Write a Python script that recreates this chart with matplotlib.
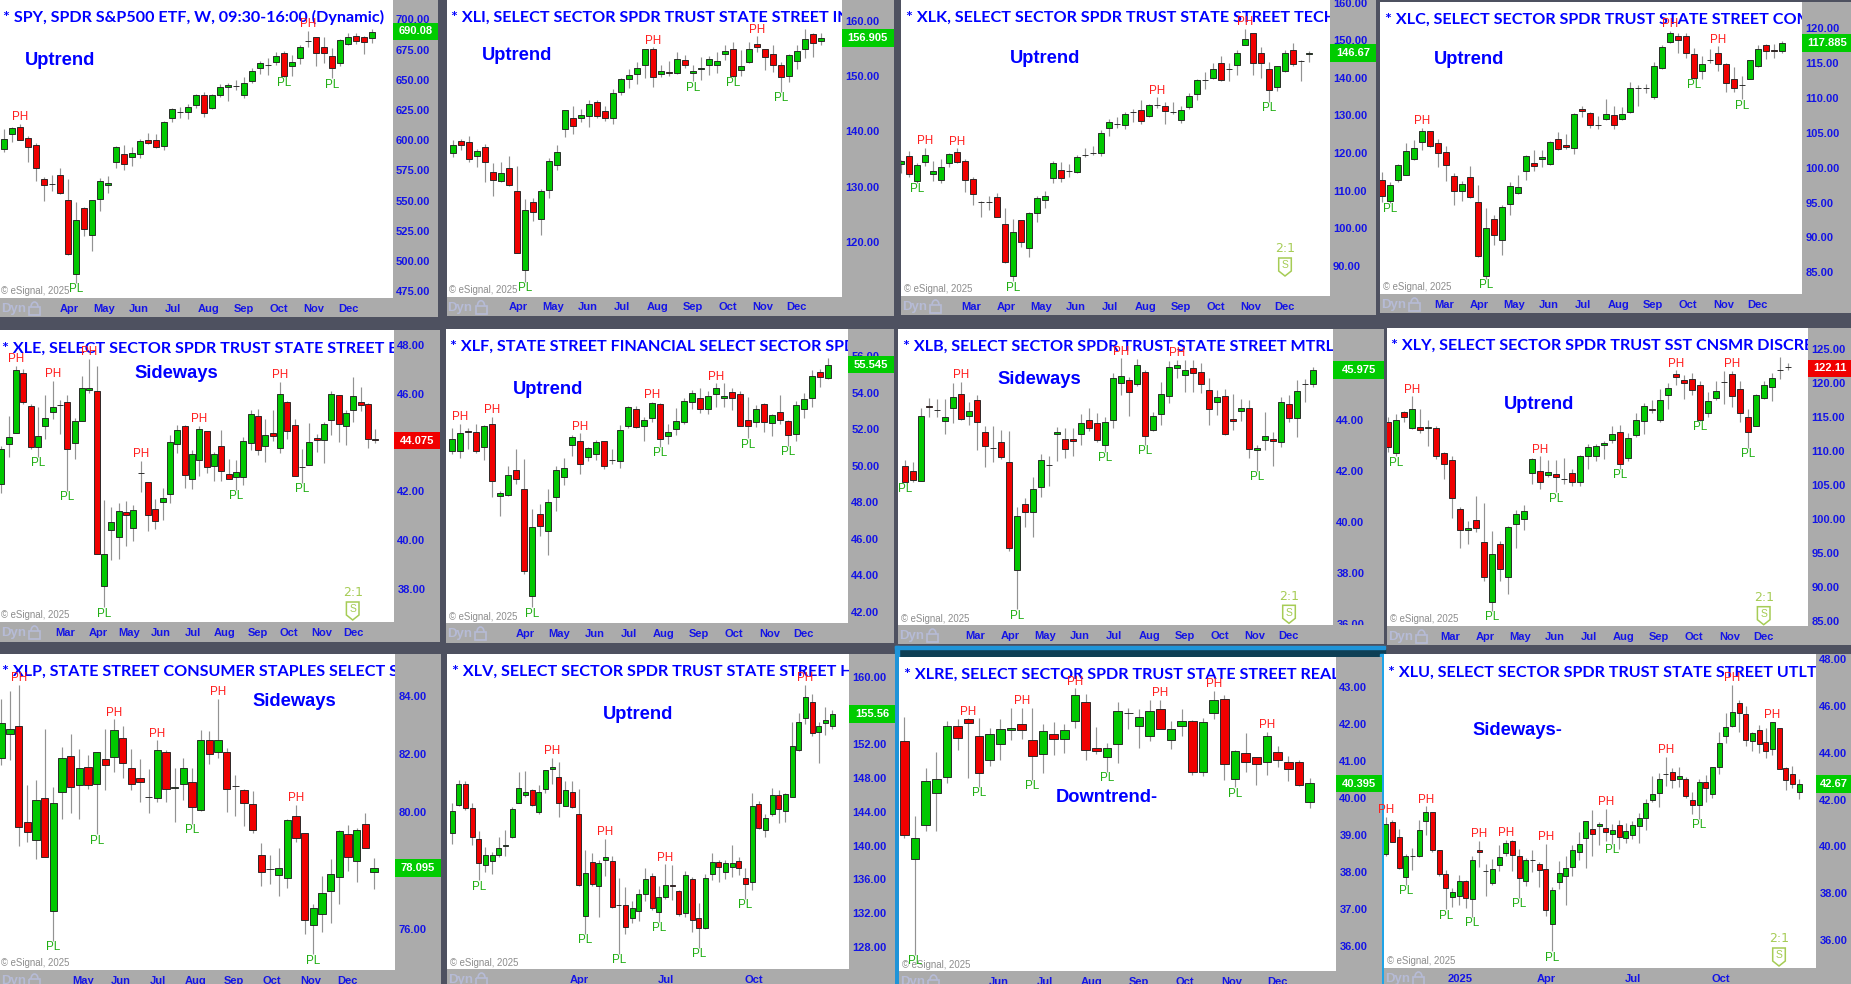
import numpy as np
import matplotlib
matplotlib.use("Agg")
import matplotlib.pyplot as plt
from matplotlib.patches import Rectangle, Polygon, Arc

W, H = 1851, 984
BLUE = "#1414e6"
ARIAL = "Liberation Sans"

# weekly candles, each row is open, high, low, close
spy = [(592.9,608.9,590.4,600.9),(604.7,611.1,598.7,609.7),(610.8,613.3,599.8,600.3),(602.2,603.4,582.1,594.5),
(595.9,597.3,566.1,576.6),(567.7,569.7,549.8,563.3),(563.6,571.0,558.1,563.6),(570.8,576.6,555.3,555.9),
(550.1,567.7,504.8,505.6),(489.6,549.2,481.9,534.3),(544.0,544.3,520.5,526.9),(521.9,550.9,508.4,550.9),
(551.7,568.8,541.5,566.6),(563.3,570.5,555.9,564.4),(582.1,595.1,577.1,594.2),(588.2,595.9,575.7,579.9),
(586.2,594.0,578.5,589.5),(588.2,600.6,585.4,599.2),(599.8,605.6,596.7,597.6),(600.3,604.7,593.7,594.5),
(595.3,616.1,592.0,614.7),(618.0,626.3,615.2,625.4),(623.2,627.1,618.0,623.2),(623.5,629.9,617.7,627.4),
(629.0,637.9,626.3,637.0),(637.3,640.1,619.4,622.4),(626.3,637.9,625.7,637.3),(637.6,646.1,635.4,643.7),
(643.7,647.0,632.6,645.3),(644.8,649.7,641.5,644.8),(637.6,651.9,634.8,647.3),(648.6,659.4,647.5,657.2),
(660.0,665.2,654.4,663.8),(662.2,667.7,653.9,662.2),(664.9,672.7,662.2,669.3),(671.8,674.0,652.5,653.3),
(661.1,670.4,653.3,664.4),(667.7,678.7,663.0,677.1),(682.3,690.6,677.3,682.3),(685.4,685.4,661.6,671.8),
(677.1,685.6,663.5,672.1),(669.3,676.0,651.1,659.4),(663.5,683.7,661.6,683.1),(679.3,688.4,678.7,685.1),
(686.5,688.9,679.3,682.3),(685.1,686.2,671.3,680.9),(684.2,691.7,680.7,689.8)]

xli = [(136.1,138.5,135.4,137.5),(138.2,138.7,136.6,137.6),(138.0,139.2,134.4,135.0),(135.5,136.8,133.6,136.4),
(137.2,137.7,130.9,134.4),(132.6,134.2,128.3,131.2),(131.0,134.5,130.9,132.4),(133.4,135.5,130.1,130.3),
(129.2,133.7,117.9,118.0),(114.8,127.7,112.7,125.7),(127.2,127.9,123.7,125.4),(124.2,129.5,121.2,129.1),
(129.4,135.2,128.0,134.6),(133.9,137.5,133.0,136.2),(140.4,143.8,139.0,143.8),(142.4,144.6,139.6,141.0),
(142.5,144.0,141.6,142.9),(142.7,145.7,140.8,144.9),(145.4,145.6,142.4,142.8),(143.6,144.6,141.9,142.5),
(142.4,147.6,141.3,146.9),(147.2,149.6,146.6,149.5),(149.5,151.3,147.9,150.2),(150.3,152.5,148.5,151.4),
(152.0,155.0,149.7,155.0),(155.0,155.2,148.1,149.8),(150.4,152.0,149.8,150.9),(150.8,152.7,150.1,150.6),
(150.6,154.4,150.4,153.1),(152.9,153.8,151.5,152.1),(150.6,152.1,149.1,150.9),(151.3,153.4,149.3,151.5),
(152.1,153.6,150.2,153.1),(152.1,154.4,150.6,152.7),(154.0,155.6,153.0,154.5),(154.9,156.1,149.9,150.1),
(151.2,154.7,150.0,151.8),(152.6,156.1,152.4,154.9),(155.9,157.2,154.3,155.2),(155.0,155.0,151.2,153.5),
(154.1,155.6,150.8,152.1),(152.0,152.6,147.2,149.8),(150.0,154.0,149.0,153.8),(152.7,155.6,151.3,154.6),
(154.9,158.5,153.2,156.7),(157.6,157.8,153.4,156.0),(156.3,157.9,155.7,157.0)]

xlk = [(117.1,118.1,114.8,117.9),(119.1,120.6,113.7,114.3),(112.6,117.3,112.1,116.8),(117.5,121.4,116.6,119.5),
(114.3,117.9,112.6,115.2),(112.9,118.5,112.1,116.3),(117.3,120.1,116.4,119.8),(120.3,121.3,117.3,117.5),
(117.8,118.3,109.7,112.7),(113.1,113.5,106.2,109.2),(106.9,107.2,102.9,106.9),(106.9,108.7,104.8,106.9),
(108.3,109.3,102.9,103.1),(101.2,105.5,90.8,91.1),(87.4,102.4,85.9,98.9),(102.1,102.2,95.1,96.4),
(94.8,104.4,92.4,104.0),(104.0,108.6,101.6,108.1),(107.4,110.0,105.5,108.7),(113.4,117.8,112.1,117.4),
(115.6,117.5,112.4,113.4),(115.1,117.2,113.5,115.1),(115.0,119.6,114.8,118.9),(119.5,121.4,119.0,119.5),
(120.1,121.9,119.5,120.1),(120.1,126.1,119.2,125.3),(126.6,129.0,124.6,128.3),(127.7,129.5,126.6,127.7),
(127.6,131.0,126.4,130.3),(130.8,131.7,128.3,130.8),(131.4,134.1,127.7,128.5),(129.8,133.0,129.6,132.8),
(132.7,134.8,131.9,132.7),(132.6,133.5,127.7,131.2),(131.0,133.5,130.4,131.0),(128.9,132.5,128.1,131.4),
(132.3,136.1,131.7,135.3),(135.8,139.6,134.1,139.4),(139.4,141.5,137.0,139.4),(140.1,144.1,139.7,142.3),
(144.1,145.8,139.2,139.4),(142.4,143.9,139.2,142.4),(143.4,147.4,140.9,146.6),(148.8,153.0,148.7,150.3),
(151.9,152.0,140.7,144.1),(146.6,148.1,140.1,144.1),(142.5,144.3,133.7,136.7),(137.6,143.3,136.6,143.1),
(141.8,147.4,141.5,146.5),(147.3,149.4,143.3,143.8),(144.5,144.8,139.3,144.5),(146.3,147.1,144.2,146.6)]

xlc = [(98.3,99.4,95.1,95.9),(95.2,97.9,95.0,97.5),(98.2,100.5,98.0,100.4),(99.0,103.6,98.9,102.4),
(101.2,104.0,101.1,102.8),(103.7,105.7,102.5,105.3),(105.3,105.3,103.0,103.1),(103.6,104.1,100.1,102.1),
(102.3,103.1,98.1,100.4),(98.8,99.3,94.7,96.7),(96.7,98.1,95.2,97.6),(98.7,100.3,95.7,95.8),
(95.1,97.5,87.2,87.3),(84.5,94.2,84.1,91.3),(92.6,93.2,88.9,90.4),(89.6,94.7,87.5,94.4),
(94.8,98.0,93.2,97.4),(96.4,98.9,96.3,97.2),(99.6,101.8,98.3,101.7),(100.7,102.6,99.6,100.3),
(101.3,102.5,100.1,101.5),(100.6,103.9,100.4,103.7),(104.1,105.2,102.5,102.7),(103.3,104.8,102.7,103.0),
(102.9,107.8,102.0,107.7),(108.5,108.9,107.3,108.2),(107.9,108.0,105.7,106.1),(106.2,107.4,105.6,106.2),
(107.0,109.9,106.8,107.7),(107.6,108.8,105.6,106.2),(107.0,108.7,106.8,107.7),(108.05,112.3,107.9,111.5),
(111.4,111.9,108.9,111.4),(111.4,112.0,110.7,111.4),(110.1,115.2,109.9,114.6),(114.3,117.6,114.2,117.3),
(118.0,119.6,117.9,119.4),(118.9,119.3,116.5,118.3),(118.9,119.4,115.8,116.5),(116.3,117.2,112.8,112.9),
(113.9,116.1,112.8,114.9),(115.5,117.0,115.0,115.5),(116.4,117.4,113.9,114.9),(114.9,115.1,110.9,112.2),
(112.8,114.4,110.8,111.4),(111.9,113.2,109.8,111.9),(112.8,115.5,112.7,115.4),(114.6,117.6,114.5,117.1),
(117.6,117.7,115.6,116.7),(116.9,117.8,115.7,116.7),(116.8,118.2,116.4,117.9)]

xle = [(42.32,43.86,41.92,43.72),(43.96,45.10,43.42,44.22),(44.41,47.15,44.41,46.98),(46.85,47.0,45.58,45.68),
(45.49,45.58,43.75,43.83),(43.83,45.45,43.42,44.28),(44.68,45.94,44.16,45.02),(45.27,46.53,44.98,45.46),
(45.53,45.75,44.35,45.53),(45.68,45.95,42.03,43.72),(43.97,45.0,43.32,44.89),(44.89,46.74,44.89,46.25),
(46.14,47.43,46.02,46.22),(46.12,47.14,39.42,39.42),(38.12,41.65,37.25,39.45),(40.4,41.37,39.19,40.76),
(40.12,41.51,39.24,41.18),(41.17,41.61,39.76,41.03),(40.52,41.44,39.98,41.23),(42.74,43.25,41.97,42.74),
(42.4,42.4,40.37,41.03),(41.27,41.69,40.45,40.79),(41.55,42.13,40.83,41.72),(41.91,44.31,41.54,44.04),
(43.96,44.72,43.59,44.5),(44.69,44.72,42.14,42.67),(42.5,43.7,42.09,43.52),(43.27,44.68,42.65,44.54),
(44.47,44.47,42.74,43.01),(43.03,43.6,42.44,43.55),(43.85,44.52,42.44,42.84),(42.73,43.32,42.5,42.51),
(42.59,43.29,42.06,42.78),(42.59,44.22,42.28,44.07),(43.98,45.34,43.7,45.19),(45.08,45.36,43.49,43.71),
(43.85,44.98,43.21,44.31),(44.38,45.34,44.08,44.28),(43.77,46.48,43.56,46.0),(45.68,45.7,44.16,44.47),
(44.71,44.98,42.63,42.65),(43.0,43.72,42.36,43.0),(43.08,44.82,43.07,44.04),(44.18,44.35,43.63,44.09),
(44.09,44.86,43.18,44.78),(44.91,46.11,44.3,46.0),(45.94,45.95,44.04,44.75),(44.7,45.34,43.89,45.2),
(45.32,46.67,44.86,45.92),(45.65,46.29,45.3,45.54),(45.6,45.61,43.78,44.15),(44.15,44.56,44.0,44.09)]

xlf = [(50.81,52.07,50.66,51.46),(50.79,52.29,50.42,51.79),(51.92,52.07,50.92,51.83),(51.87,52.29,50.7,50.79),
(51.04,52.25,50.3,52.18),(52.32,52.67,48.27,49.15),(48.35,48.64,47.23,48.53),(48.38,50.01,48.33,49.48),
(49.8,50.93,49.02,49.26),(48.71,50.37,44.09,44.26),(42.87,47.65,42.25,46.65),(47.36,47.93,46.17,46.7),
(46.43,48.75,45.14,48.02),(48.27,49.97,47.51,49.77),(49.37,50.41,48.97,49.88),(51.16,51.7,50.55,51.59),
(51.34,51.79,49.57,50.1),(50.46,51.06,50.26,50.97),(50.64,51.43,50.3,51.3),(51.34,51.39,49.82,49.99),
(50.33,50.92,50.1,50.33),(50.24,52.25,49.86,51.96),(52.21,53.29,52.1,53.2),(53.12,53.29,52.1,52.14),
(52.18,52.67,51.34,52.54),(52.61,53.52,52.38,53.45),(53.38,53.43,51.06,51.45),(51.63,52.3,51.21,51.85),
(52.01,53.16,51.7,52.47),(52.43,53.71,52.3,53.56),(53.52,54.16,53.11,54.0),(53.71,54.26,52.89,53.12),
(53.12,54.11,52.85,53.82),(53.93,54.53,53.25,54.26),(53.74,54.53,53.25,53.85),(54.04,54.27,53.07,53.74),
(53.93,54.09,52.19,52.21),(52.54,53.8,51.52,52.21),(52.39,53.31,52.12,53.12),(53.38,53.43,51.88,52.39),
(52.36,52.83,51.65,52.8),(52.94,53.91,52.29,52.5),(52.47,52.52,51.1,51.7),(51.77,53.58,51.34,53.34),
(53.12,53.98,52.61,53.67),(53.74,55.26,53.22,54.95),(55.17,55.31,54.34,54.87),(54.8,55.91,54.75,55.53)]

xlb = [(42.19,42.44,41.56,41.59),(42.01,42.36,41.56,41.64),(41.63,44.47,41.63,44.16),(44.58,44.87,44.14,44.51),
(44.41,44.83,44.12,44.41),(43.96,44.83,43.46,44.13),(44.5,45.46,43.88,44.92),(45.05,45.51,44.01,44.04),
(44.16,44.73,43.82,44.37),(44.79,45.0,42.83,43.92),(43.53,43.79,42.18,43.0),(42.9,43.78,42.37,42.9),
(43.14,43.62,42.49,42.56),(42.37,43.58,38.86,38.96),(38.1,40.6,36.57,40.25),(40.72,40.96,39.82,40.41),
(40.38,41.76,39.4,41.29),(41.38,42.66,40.97,42.45),(42.26,42.6,41.43,42.26),(43.45,43.75,42.4,43.53),
(43.27,43.69,42.53,42.87),(43.27,43.69,42.6,43.19),(43.47,44.25,43.03,43.9),(44.0,44.5,43.59,43.71),
(43.9,44.28,43.16,43.24),(43.03,44.14,42.77,43.95),(44.03,45.88,43.69,45.68),(45.47,46.44,45.01,45.76),
(45.57,45.72,44.17,45.13),(45.42,46.4,45.36,46.18),(45.91,46.0,43.03,43.4),(43.63,44.34,43.59,44.18),
(44.24,45.52,43.82,45.02),(44.97,46.35,44.7,46.1),(46.07,46.37,45.68,46.16),(45.78,46.37,45.13,45.97),
(46.07,46.37,45.13,45.86),(45.89,46.24,45.09,45.44),(45.18,45.65,43.82,44.45),(44.73,45.19,44.21,44.92),
(44.94,45.22,43.42,43.45),(44.04,45.04,43.62,43.97),(44.37,44.83,43.99,44.5),(44.47,44.8,42.52,42.87),
(42.82,43.03,42.02,42.9),(43.21,44.34,42.83,43.37),(43.27,43.53,42.2,43.19),(43.16,44.91,42.96,44.71),
(44.63,45.01,43.95,44.1),(44.1,45.59,43.36,45.15),(45.42,45.61,44.73,45.42),(45.42,46.11,45.32,45.97)]

xly = [(114.2,115.0,109.9,110.5),(109.7,115.4,109.2,114.6),(115.7,115.9,114.2,115.0),(113.3,118.0,113.2,116.1),
(113.5,116.1,112.6,113.0),(113.3,114.6,110.7,113.5),(113.4,113.6,108.8,109.3),(109.7,109.9,105.8,108.0),
(108.6,109.3,100.1,103.0),(101.5,101.7,95.8,98.4),(98.4,99.7,96.3,98.7),(99.9,103.3,98.1,98.6),
(96.6,102.3,90.9,91.5),(87.8,98.2,86.5,94.8),(96.3,96.8,90.9,92.7),(91.5,99.0,89.0,98.8),
(99.2,101.3,95.8,100.7),(100.0,102.1,98.3,101.2),(106.7,109.0,105.2,108.8),(107.06,109.2,104.4,105.4),
(106.5,108.7,106.2,106.9),(106.6,108.7,103.9,106.2),(105.8,109.0,105.2,105.8),(106.7,107.3,104.8,105.4),
(105.4,109.4,104.9,109.3),(109.3,111.0,107.4,110.6),(109.2,111.0,108.5,110.7),(110.9,111.5,108.8,111.1),
(111.6,113.6,111.1,112.4),(112.8,113.8,107.4,108.1),(109.0,112.6,108.5,111.9),(112.3,115.6,112.1,114.5),
(114.4,117.0,112.5,116.6),(116.2,117.4,115.5,116.0),(114.5,119.1,114.2,117.5),(118.2,120.0,116.1,119.3),
(121.3,121.8,119.6,120.8),(120.4,121.2,117.6,120.0),(120.5,121.4,118.2,119.0),(119.7,120.2,114.4,114.5),
(115.5,118.6,115.0,117.3),(117.8,120.2,117.4,118.8),(120.1,121.7,116.9,120.1),(121.3,121.7,116.4,118.0),
(119.1,120.3,114.3,115.6),(114.9,116.1,110.4,112.8),(113.7,118.4,113.6,118.2),(117.7,120.2,117.6,119.7),
(119.4,121.5,117.3,120.7),(121.9,123.8,120.5,121.9),(122.3,122.9,121.9,122.3)]

xlp = [(81.87,83.89,81.62,83.08),(82.7,84.16,81.81,82.85),(82.98,84.37,78.86,79.51),(79.66,80.93,78.97,79.34),
(79.04,81.12,78.41,80.41),(80.51,82.85,78.46,78.46),(76.6,80.86,75.59,80.34),(80.71,82.26,79.79,81.86),
(81.93,82.71,79.98,80.86),(80.93,82.17,79.77,81.54),(81.57,81.97,80.8,80.94),(80.98,82.08,79.25,82.08),
(81.85,82.86,80.77,81.62),(81.92,83.2,81.39,82.82),(82.57,82.96,81.19,81.71),(81.54,82.17,80.77,80.98),
(81.17,81.85,80.37,81.05),(80.54,81.49,79.97,80.54),(80.51,82.48,80.37,82.16),(82.09,82.16,80.37,80.82),
(80.85,81.51,79.68,80.89),(80.98,81.87,80.42,81.51),(81.06,81.51,79.62,80.17),(80.07,82.82,80.06,82.48),
(82.5,82.81,81.65,82.02),(82.08,83.91,81.87,82.47),(82.07,82.22,80.02,80.8),(80.9,81.28,79.89,80.9),
(80.77,80.82,79.53,80.33),(80.29,80.75,79.3,79.4),(78.53,78.94,77.47,77.97),(78.07,78.54,77.55,78.07),
(77.86,78.77,77.14,78.1),(77.74,79.77,77.4,79.73),(79.87,80.25,78.97,79.11),(79.28,79.31,75.82,76.29),
(76.12,76.85,75.13,76.71),(76.5,77.82,75.91,77.25),(77.29,78.39,76.2,77.89),(77.8,79.39,76.87,79.35),
(79.25,79.57,77.99,78.47),(78.32,79.45,77.62,79.39),(79.62,79.98,78.77,78.79),(77.97,78.42,77.37,78.08)]

xlv = [(141.5,145.0,140.2,144.1),(144.8,147.8,144.7,147.3),(147.3,147.6,144.2,144.4),(144.4,145.1,140.1,141.0),
(140.8,141.7,135.9,138.0),(137.7,139.8,136.9,138.9),(138.2,139.3,136.7,138.9),(138.95,141.0,138.6,139.7),
(139.9,141.9,138.8,140.1),(141.0,144.6,140.9,144.3),(145.1,148.7,145.0,146.8),(146.0,148.8,145.7,146.4),
(146.6,146.7,144.7,144.8),(144.0,147.2,143.8,146.4),(146.7,149.0,146.2,149.0),(149.1,150.4,147.3,149.3),
(148.1,149.9,143.4,145.0),(144.7,147.7,144.7,146.6),(146.4,147.6,144.4,144.6),(143.7,146.7,135.2,135.3),
(131.7,139.5,129.6,136.8),(138.1,139.1,135.2,135.5),(135.2,138.3,131.6,138.0),(138.3,140.8,136.4,138.6),
(138.2,138.8,132.6,132.7),(133.0,136.2,127.2,133.0),(133.0,135.1,129.5,130.4),(131.4,133.4,130.9,132.6),
(132.3,134.9,131.1,134.3),(134.3,137.4,133.4,136.1),(136.4,136.8,132.4,132.6),(132.1,135.2,131.0,133.9),
(133.9,137.8,133.7,135.4),(135.4,137.7,133.6,135.2),(134.6,134.7,131.7,131.9),(132.0,137.0,131.6,136.5),
(136.1,136.3,129.8,131.2),(131.4,133.2,127.9,130.2),(130.3,136.6,130.1,136.2),(136.6,139.1,135.9,138.1),
(138.1,138.3,135.7,137.5),(136.9,138.3,136.0,137.9),(137.5,140.1,136.3,138.0),(138.2,138.6,136.5,137.4),
(136.2,137.4,133.7,135.5),(135.7,146.2,134.7,144.7),(144.9,145.3,141.95,142.1),(141.8,143.7,141.0,143.3),
(143.7,146.8,143.5,146.0),(146.0,146.6,142.7,144.3),(144.1,146.2,142.8,146.1),(145.8,154.6,145.7,151.8),
(151.3,155.7,151.2,154.6),(155.1,159.0,154.4,157.6),(157.0,157.9,153.0,153.3),(153.4,154.6,149.8,154.1),
(154.5,156.4,153.1,154.9),(154.2,156.0,153.8,155.6)]

xlre = [(41.54,42.2,38.93,38.99),(38.34,39.51,35.76,38.92),(39.26,40.81,39.11,40.46),(40.13,41.26,39.11,40.53),
(40.56,42.09,40.42,41.94),(41.94,42.14,41.3,41.64),(42.13,42.16,40.54,42.03),(41.68,42.16,40.3,40.67),
(41.02,41.89,40.87,41.74),(41.46,42.13,41.03,41.88),(41.85,42.45,41.58,41.9),(42.0,42.45,41.6,41.85),
(41.58,42.43,40.49,41.15),(41.19,42.0,40.69,41.81),(41.73,42.07,41.17,41.59),(41.59,42.0,41.22,41.85),
(42.08,42.97,41.91,42.8),(42.6,42.81,41.04,41.31),(41.37,41.93,41.19,41.28),(41.11,41.5,40.72,41.35),
(41.46,42.61,40.94,42.35),(42.31,42.45,41.86,42.31),(41.96,42.41,41.37,42.19),(41.69,42.66,41.55,42.35),
(42.41,42.66,41.87,41.88),(41.58,42.09,41.33,41.88),(41.95,42.41,41.69,42.08),(42.1,42.12,40.63,40.72),
(40.72,42.18,40.61,42.05),(42.3,42.9,42.13,42.66),(42.68,42.79,40.49,40.93),(40.51,41.31,40.29,41.27),
(41.21,41.76,40.72,40.99),(41.11,41.12,40.36,40.93),(40.97,41.8,40.63,41.69),(41.24,41.42,40.85,41.02),
(40.98,41.15,40.47,40.79),(40.98,41.03,40.34,40.36),(39.89,40.54,39.73,40.4)]

xlu = [(39.69,41.27,39.6,40.97),(41.04,41.13,40.17,40.2),(40.39,40.73,39.03,39.07),(38.69,39.66,38.37,39.57),
(39.61,39.94,38.99,39.61),(39.6,41.13,39.54,40.7),(41.07,41.71,40.49,41.46),(41.46,41.49,39.77,39.86),
(39.83,39.84,38.74,38.82),(38.84,38.99,37.31,38.21),(37.82,38.24,37.41,38.03),(37.89,38.77,37.51,38.53),
(38.54,38.56,37.37,37.79),(37.76,39.6,36.99,39.4),(39.84,40.23,39.13,39.77),(38.93,39.26,37.89,38.93),
(38.44,39.46,38.37,39.04),(39.19,40.06,38.94,39.53),(39.73,40.27,39.6,40.13),(40.24,40.27,38.94,39.63),
(39.57,39.89,37.8,38.66),(38.53,39.49,38.31,39.41),(39.41,39.84,38.91,39.41),(39.24,39.34,38.27,39.0),
(39.04,40.11,37.03,37.29),(36.7,38.27,35.52,38.13),(38.49,39.37,38.2,38.87),(38.74,39.6,37.51,39.07),
(39.14,40.06,38.74,39.84),(39.77,40.63,39.41,40.1),(40.34,41.1,39.06,41.07),(40.73,41.56,39.6,40.54),
(40.86,41.03,40.06,40.94),(40.77,41.6,40.24,40.63),(40.54,40.94,40.11,40.7),(40.9,41.13,39.87,40.39),
(40.34,40.99,40.14,40.64),(40.49,41.1,40.31,40.9),(40.86,41.41,40.14,41.21),(41.23,42.01,40.7,41.84),
(41.99,43.03,41.89,42.24),(42.27,43.13,41.7,42.87),(43.1,43.84,42.6,43.1),(43.19,43.34,42.51,42.83),
(42.9,43.41,42.56,43.03),(42.87,42.99,42.09,42.16),(41.99,42.34,41.4,41.77),(41.76,42.89,41.17,42.74),
(42.74,43.06,41.91,42.51),(42.23,43.41,42.09,43.39),(43.4,44.89,43.09,44.44),(44.74,45.7,44.41,45.09),
(45.16,46.91,45.1,45.77),(46.13,46.26,44.89,45.7),(45.67,46.0,44.31,44.57),(44.53,44.89,44.06,44.84),
(44.96,45.2,43.99,44.4),(44.46,45.06,43.77,44.1),(44.16,45.34,43.89,45.31),(45.06,45.06,43.29,43.31),
(43.36,43.41,42.43,42.86),(43.1,43.44,42.51,42.67),(42.32,42.87,42.01,42.66)]

candles = [spy, xli, xlk, xlc, xle, xlf, xlb, xly, xlp, xlv, xlre, xlu]

titles = ["* SPY, SPDR S&P500 ETF, W, 09:30-16:00 (Dynamic)",
          "* XLI, SELECT SECTOR SPDR TRUST STATE STREET INDU",
          "* XLK, SELECT SECTOR SPDR TRUST STATE STREET TECHN",
          "* XLC, SELECT SECTOR SPDR TRUST STATE STREET COMM",
          "* XLE, SELECT SECTOR SPDR TRUST STATE STREET ENER",
          "* XLF, STATE STREET FINANCIAL SELECT SECTOR SPDR",
          "* XLB, SELECT SECTOR SPDR TRUST STATE STREET MTRLS",
          "* XLY, SELECT SECTOR SPDR TRUST SST CNSMR DISCRET",
          "* XLP, STATE STREET CONSUMER STAPLES SELECT SECTOR",
          "* XLV, SELECT SECTOR SPDR TRUST STATE STREET HEAL",
          "* XLRE, SELECT SECTOR SPDR TRUST STATE STREET REAL",
          "* XLU, SELECT SECTOR SPDR TRUST STATE STREET UTLTS"]
trends = ["Uptrend", "Uptrend", "Uptrend", "Uptrend", "Sideways", "Uptrend",
          "Sideways", "Uptrend", "Sideways", "Uptrend", "Downtrend-", "Sideways-"]
last_labels = ["690.08", "156.905", "146.67", "117.885", "44.075", "55.545",
               "45.975", "122.11", "78.095", "155.56", "40.395", "42.67"]
last_prices = [690.08, 156.905, 146.67, 117.885, 44.075, 55.545,
               45.975, 122.11, 78.095, 155.56, 40.395, 42.67]
last_up = [True, True, True, True, False, True, True, False, True, True, True, True]

price_ticks = [list(range(475, 701, 25)), list(range(120, 161, 10)), list(range(90, 161, 10)),
               list(range(85, 121, 5)), list(range(38, 49, 2)), list(range(42, 57, 2)),
               list(range(36, 47, 2)), list(range(85, 126, 5)), list(range(76, 85, 2)),
               list(range(128, 161, 4)), list(range(36, 44)), list(range(36, 49, 2))]

months_a = ["Apr", "May", "Jun", "Jul", "Aug", "Sep", "Oct", "Nov", "Dec"]
months_b = ["Mar"] + months_a
month_labels = [months_a, months_a, months_b, months_b, months_b, months_a, months_b, months_b,
                months_a[1:], ["Apr", "Jul", "Oct"], months_a[2:], ["2025", "Apr", "Jul", "Oct"]]
month_pos = [[8.21, 12.5, 16.83, 21.12, 25.54, 29.96, 34.29, 38.75, 43.0],
             [8.17, 12.46, 16.83, 21.08, 25.54, 29.92, 34.29, 38.75, 42.96],
             [8.79, 13.21, 17.46, 21.83, 26.13, 30.54, 34.96, 39.29, 43.75, 47.96],
             [7.79, 12.21, 16.5, 20.88, 25.13, 29.58, 33.96, 38.33, 42.75, 46.96],
             [8.77, 13.23, 17.45, 21.77, 26.14, 30.5, 34.95, 39.27, 43.73, 47.95],
             [9.17, 13.46, 17.83, 22.13, 26.54, 30.92, 35.29, 39.75, 43.96],
             [8.79, 13.21, 17.5, 21.83, 26.13, 30.54, 34.96, 39.29, 43.75, 47.96],
             [7.79, 12.21, 16.5, 20.88, 25.13, 29.54, 33.96, 38.33, 42.79, 47.0],
             [9.38, 13.77, 18.12, 22.46, 26.88, 31.23, 35.65, 39.88],
             [19.15, 32.05, 45.2],
             [8.81, 13.16, 17.56, 21.97, 26.25, 30.72, 34.97],
             [11.15, 24.15, 37.05, 50.2]]

# candle numbers carrying a pivot label
pivot_high = [[2, 38], [25, 38], [3, 7, 32, 43], [5, 36, 42], [2, 7, 12, 19, 27, 38], [1, 5, 16, 25, 33],
              [7, 27, 34], [3, 19, 36, 43], [2, 13, 18, 25, 34], [15, 23, 32, 53], [6, 11, 16, 24, 29, 34],
              [0, 6, 14, 18, 24, 33, 42, 52, 58]]
pivot_low = [[9, 35, 41], [9, 30, 35, 41], [2, 14, 46], [1, 13, 39, 45], [5, 9, 14, 32, 41], [10, 26, 37, 42],
             [0, 14, 25, 30, 44], [1, 13, 21, 29, 39, 45], [6, 11, 22, 36], [4, 20, 25, 31, 37, 44],
             [1, 7, 12, 19, 31], [3, 9, 13, 20, 25, 34, 47]]

# layout in reference pixels: white left, right, top, bottom, gray right, strip bottom
frames = [(0, 392.7, 0, 298, 438.3, 317), (446.5, 841.7, 0, 296.7, 894, 316),
          (901, 1329.7, 0, 296, 1376, 315), (1380, 1802.3, 2, 294, 1851, 313),
          (0, 394, 330, 622, 440, 641.7), (446, 848, 329, 623, 894, 642.7),
          (898, 1333, 329, 625, 1384, 644), (1387, 1808, 328, 626, 1851, 645),
          (0, 395, 654, 970, 441, 984), (447, 848.7, 654, 969, 895, 984),
          (899, 1336, 657, 971, 1382, 984), (1384, 1816, 654, 968, 1851, 984)]
first_px = [4, 453, 901, 1381.67, 1.33, 451.67, 905, 1387.67, 1.33, 452, 904.33, 1385.67]
step_px = [8, 8, 8, 8, 7.333, 8, 8, 8, 8.667, 6.667, 10.667, 6.667]
body_px = [6, 6, 6, 6, 6, 6, 6, 6, 7.3, 5, 8.8, 5]
ylims = [(469.4, 716.0), (110.03, 163.8), (81.95, 160.74), (81.89, 123.78), (36.65, 48.615), (41.39, 57.5),
         (35.95, 47.594), (84.27, 128.04), (74.59, 85.44), (125.4, 162.68), (35.32, 43.82), (34.8, 48.23)]
title_xy = [(2.7, 17.3), (451, 17.3), (906, 17.3), (1385, 20), (2, 348.3), (450.3, 346.7),
            (903, 346.7), (1391, 346), (1.7, 671.7), (451.7, 671.7), (904.3, 675), (1388.3, 672.3)]
trend_xy = [(25, 60.7), (481.7, 56), (1010, 58.7), (1434.3, 59.3), (134, 373.3), (512.7, 389),
            (997.7, 380), (1504.3, 404.7), (252.3, 702), (603, 714.3), (1055.3, 797.3), (1472.7, 730.3)]
shield_xy = [(1285, 267), (352.7, 611), (1289, 614.3), (1763.7, 615.7), (1779, 957)]


def fig_rect(l, r, t, b):
    return [l / W, 1 - b / H, (r - l) / W, (b - t) / H]


fig = plt.figure(figsize=(W / 100, H / 100), dpi=100, facecolor="#4e5160")

# back layer in pixels for the gray chrome
back = fig.add_axes([0, 0, 1, 1], zorder=0)
back.set_xlim(0, W)
back.set_ylim(H, 0)
back.axis("off")

# front layer in pixels for the texts floating over the charts
front = fig.add_axes([0, 0, 1, 1], zorder=5)
front.set_xlim(0, W)
front.set_ylim(H, 0)
front.axis("off")
front.patch.set_alpha(0)

# selected chart frame and the blue edge next to it
back.add_patch(Rectangle((895, 648), 490, 9, color="#0e3f55"))
back.add_patch(Rectangle((895, 646), 490, 2.5, color="#1f94d8"))
back.add_patch(Rectangle((895, 646), 4, 338, color="#1f94d8"))
back.add_patch(Rectangle((1380, 654), 4, 330, color="#1fa3e6"))

for n, frame in enumerate(frames):
    left, right, top, bottom, gray_r, strip_b = frame
    rows = np.array(candles[n])
    opens, highs, lows, closes = rows.T
    x = np.arange(len(rows))

    back.add_patch(Rectangle((left, bottom), gray_r - left, strip_b - bottom, color="#ababab", lw=0))

    ax = fig.add_axes(fig_rect(left, right, top, bottom), zorder=2, facecolor="white")
    ax.set_xlim((left - first_px[n]) / step_px[n], (right - first_px[n]) / step_px[n])
    ax.set_ylim(*ylims[n])
    for side in ax.spines.values():
        side.set_visible(False)
    ax.set_yticks([])

    colors = ["#00c800" if c > o else "#f00000" if c < o else "black" for o, c in zip(opens, closes)]
    ax.vlines(x, lows, highs, color="#939393", lw=0.85, zorder=2)
    ax.bar(x, closes - opens, bottom=opens, width=body_px[n] / step_px[n], color=colors,
           edgecolor="#222222", linewidth=0.65, zorder=3)

    ax.set_xticks(month_pos[n])
    ax.set_xticklabels(month_labels[n], family=ARIAL, fontweight="bold", fontsize=8, color=BLUE)
    ax.tick_params(axis="x", length=0, pad=4)

    # price scale on its own gray axes so labels get cut at the edge like the original
    ax_r = fig.add_axes(fig_rect(right, gray_r, top, bottom), zorder=1, facecolor="#ababab")
    ax_r.set_xlim(0, 1)
    ax_r.set_ylim(*ylims[n])
    ax_r.set_xticks([])
    for side in ax_r.spines.values():
        side.set_visible(False)
    ax_r.set_axisbelow(True)
    ax_r.set_yticks(price_ticks[n])
    ax_r.set_yticklabels([f"{v:.2f}" for v in price_ticks[n]], family=ARIAL, fontweight="bold",
                         fontsize=8, color=BLUE, ha="left")
    ax_r.tick_params(axis="y", length=0, pad=-3.3 * 0.72)
    for lab in ax_r.get_yticklabels():
        lab.set_clip_box(ax_r.bbox)
        lab.set_clip_on(True)

    half = 8.7 * (ylims[n][1] - ylims[n][0]) / (bottom - top)
    box_color = "#00cc00" if last_up[n] else "#f00000"
    ax_r.axhspan(last_prices[n] - half, last_prices[n] + half, color=box_color, lw=0, zorder=3)
    ax_r.text(0.5, last_prices[n], last_labels[n], ha="center", va="center", color="white", family=ARIAL,
              fontweight="bold", fontsize=8, zorder=4, clip_on=True)

    tx, ty = title_xy[n]
    ax.text((tx - left) / (right - left), 1 - (ty - top) / (bottom - top), titles[n], transform=ax.transAxes,
            family="Lato", fontweight="bold", fontsize=11.6, color="#0000ff", va="center", clip_on=True, zorder=5)

    for i in pivot_high[n]:
        ax.annotate("PH", (i, highs[i]), xytext=(0, 4.8), textcoords="offset points", ha="center", va="center",
                    family=ARIAL, fontsize=8.4, color="#ff1c1c", zorder=6, annotation_clip=False)
    for i in pivot_low[n]:
        ax.annotate("PL", (i, lows[i]), xytext=(0, -4.6), textcoords="offset points", ha="center", va="center",
                    family=ARIAL, fontsize=8.4, color="#1fae12", zorder=6, annotation_clip=False)

    ax.text(2.5 / (right - left) if left else 0.002, 6.5 / (bottom - top), "© eSignal, 2025", transform=ax.transAxes,
            family=ARIAL, fontsize=6.9, color="#8c8c8c", va="center", zorder=5)

    front.text(trend_xy[n][0], trend_xy[n][1], trends[n], family=ARIAL, fontweight="bold", fontsize=13.2,
               color="#0000ff", va="center")

    # faint Dyn badge and lock in the date strip
    front.text(left + 1, bottom + 11, "Dyn", family=ARIAL, fontweight="bold", fontsize=9.5, color="#b6bbd6",
               va="center")
    front.add_patch(Rectangle((left + 29, bottom + 9), 11, 8, fill=False, ec="#b6bbd6", lw=1.2))
    front.add_patch(Arc((left + 34.5, bottom + 9), 7, 10, theta1=180, theta2=360, ec="#b6bbd6", lw=1.2))

for sx, sy in shield_xy:
    front.text(sx, sy - 18, "2:1", family="DejaVu Sans", fontsize=9, color="#a6cc55", ha="center", va="center")
    outline = [(sx - 6.3, sy - 9), (sx + 6.3, sy - 9), (sx + 6.3, sy + 4), (sx, sy + 9), (sx - 6.3, sy + 4)]
    front.add_patch(Polygon(outline, closed=True, fill=False, ec="#a6cc55", lw=1.1))
    front.text(sx, sy - 1.5, "S", family=ARIAL, fontsize=7.5, color="#a6cc55", ha="center", va="center")

fig.savefig("out.png", dpi=100, facecolor=fig.get_facecolor())
